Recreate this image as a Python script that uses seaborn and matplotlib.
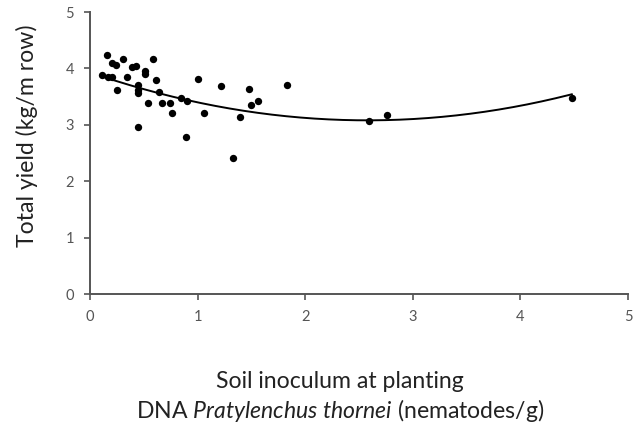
import numpy as np
import pandas as pd
import matplotlib
matplotlib.use("Agg")
import matplotlib.pyplot as plt
import seaborn as sns

# Data
dna_x = [0.155, 0.31, 0.59, 0.20, 0.24, 0.39, 0.43, 0.51, 0.51, 0.11,
         0.17, 0.20, 0.34, 0.61, 0.25, 0.45, 0.45, 0.45, 0.64, 1.00,
         1.22, 1.48, 1.83, 0.54, 0.67, 0.74, 0.76, 0.85, 0.90, 1.06,
         1.39, 1.50, 1.56, 0.45, 0.89, 1.33, 2.59, 2.76, 4.48]
yield_y = [4.24, 4.16, 4.16, 4.09, 4.06, 4.03, 4.04, 3.96, 3.90, 3.88,
           3.85, 3.85, 3.85, 3.79, 3.62, 3.71, 3.62, 3.56, 3.59, 3.82,
           3.69, 3.63, 3.71, 3.39, 3.39, 3.39, 3.21, 3.47, 3.43, 3.21,
           3.13, 3.35, 3.43, 2.96, 2.79, 2.42, 3.07, 3.17, 3.47]

# Quadratic trendline coefficients (y = c + b*x + a*x^2)
trend_a = 0.128
trend_b = -0.66
trend_c = 3.93

x_ticks = [0, 1, 2, 3, 4, 5]
y_ticks = [0, 1, 2, 3, 4, 5]

sns.set_theme(style="white")
plt.rcParams['font.family'] = ['Lato', 'DejaVu Sans']
plt.rcParams['mathtext.fontset'] = 'custom'
plt.rcParams['mathtext.rm'] = 'Lato'
plt.rcParams['mathtext.it'] = 'Lato:italic'

W, H = 638, 425
df = pd.DataFrame({"x": dna_x, "y": yield_y})
xs = np.linspace(min(dna_x), max(dna_x), 200)
trend = pd.DataFrame({"x": xs, "y": trend_c + trend_b * xs + trend_a * xs ** 2})

fig = plt.figure(figsize=(W / 100, H / 100), dpi=100)
ax = fig.add_axes([90 / W, 1 - 294 / H, (628 - 90) / W, (294 - 12) / H])

sns.lineplot(data=trend, x="x", y="y", ax=ax, color="black", linewidth=1.4)
sns.scatterplot(data=df, x="x", y="y", ax=ax, color="black", s=28,
                edgecolor="black", linewidth=0, zorder=3)

ax.set_xlim(0, 5)
ax.set_ylim(0, 5)
ax.set_xticks(x_ticks)
ax.set_yticks(y_ticks)
ax.tick_params(axis="both", bottom=True, left=True, direction="out",
               length=4.5, width=1.2, color="#555555", labelsize=10.5,
               labelcolor="#555555", pad=7)
for s in ["top", "right"]:
    ax.spines[s].set_visible(False)
for s in ["left", "bottom"]:
    ax.spines[s].set_color("#555555")
    ax.spines[s].set_linewidth(1.4)

ax.set_ylabel("Total yield (kg/m row)", fontsize=16.6, color="#222222")
ax.yaxis.label.set_va("center")
ax.yaxis.set_label_coords((27 - 90) / 538, (294 - 136) / 282)

ax.set_xlabel("Soil inoculum at planting", fontsize=16.6, color="#222222")
ax.xaxis.label.set_va("baseline")
ax.xaxis.set_label_coords((340 - 90) / 538, (294 - 388) / 282)
ax.text((340 - 90) / 538, (294 - 418) / 282,
        "DNA $\\it{Pratylenchus\\ thornei}$ (nematodes/g)",
        transform=ax.transAxes, ha="center", va="baseline",
        fontsize=16.6, color="#222222")

fig.savefig("out.png", dpi=100)
